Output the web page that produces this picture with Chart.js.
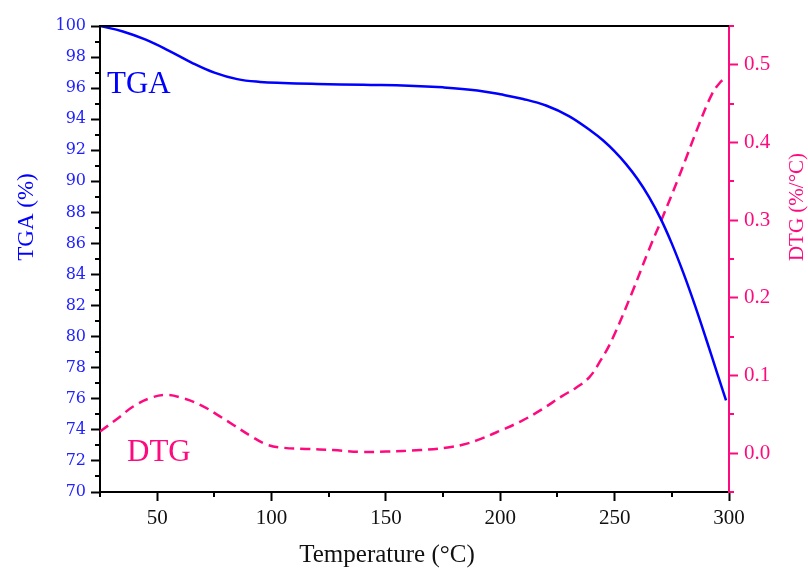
<html>
<head>
<style>
  body { margin: 0; background: #fff; }
  #wrap { width: 808px; height: 568px; }
</style>
</head>
<body>
<div id="wrap"><canvas id="myChart"></canvas></div>
<script src="https://cdn.jsdelivr.net/npm/chart.js"></script>
<script>
// data
const tgaTemp = [25, 35, 45, 55, 65, 75, 85, 95, 105, 120, 140, 160, 175, 190, 200, 210, 220, 230, 240, 245, 250, 255, 260, 265, 270, 275, 280, 285, 290, 295, 298.7];
const tgaVal  = [100.0, 99.65, 99.12, 98.42, 97.65, 97.0, 96.58, 96.4, 96.33, 96.27, 96.21, 96.16, 96.05, 95.85, 95.6, 95.3, 94.88, 94.2, 93.21, 92.63, 91.93, 91.11, 90.15, 89.0, 87.63, 85.99, 84.12, 82.06, 79.85, 77.57, 75.9];

const dtgTemp = [25, 32, 39.5, 47, 54, 61, 69, 76, 83.5, 91, 98, 105, 115, 127, 140, 150, 165, 177, 185, 192, 200, 209, 218, 227, 233, 239, 244, 249, 257.5, 265, 271, 278, 287, 292.5, 296, 298.7];
const dtgVal  = [0.028, 0.043, 0.06, 0.071, 0.075, 0.071, 0.062, 0.05, 0.036, 0.022, 0.011, 0.007, 0.0055, 0.004, 0.0015, 0.002, 0.004, 0.0073, 0.012, 0.019, 0.029, 0.041, 0.056, 0.0735, 0.084, 0.098, 0.12, 0.147, 0.206, 0.262, 0.304, 0.355, 0.424, 0.462, 0.477, 0.484];

// ticks
const xTicks = [50, 100, 150, 200, 250, 300];
const xMinor = [25, 75, 125, 175, 225, 275];
const tgaTicks = [70, 72, 74, 76, 78, 80, 82, 84, 86, 88, 90, 92, 94, 96, 98, 100];
const tgaMinor = [71, 73, 75, 77, 79, 81, 83, 85, 87, 89, 91, 93, 95, 97, 99];
const dtgTicks = [0.0, 0.1, 0.2, 0.3, 0.4, 0.5];
const dtgMinor = [-0.05, 0.05, 0.15, 0.25, 0.35, 0.45, 0.55];

const BLUE = '#0000ff';
const PINK = '#ff0a7e';
const SERIF = '"Liberation Serif", "DejaVu Serif", serif';

// minor ticks, top frame line and the free texts
const extras = {
  id: 'extras',
  afterDraw(chart) {
    const ctx = chart.ctx;
    const a = chart.chartArea;
    const xs = chart.scales.x, yl = chart.scales.y, yr = chart.scales.y2;
    ctx.save();
    ctx.lineWidth = 2;
    ctx.strokeStyle = '#000';
    ctx.beginPath();
    xMinor.forEach(v => {
      const p = Math.round(xs.getPixelForValue(v));
      ctx.moveTo(p, a.bottom); ctx.lineTo(p, a.bottom + 5);
    });
    tgaMinor.forEach(v => {
      const p = Math.round(yl.getPixelForValue(v));
      ctx.moveTo(a.left - 5, p); ctx.lineTo(a.left, p);
    });
    ctx.moveTo(a.left, a.top); ctx.lineTo(a.right, a.top);
    ctx.stroke();

    ctx.strokeStyle = PINK;
    ctx.beginPath();
    dtgMinor.forEach(v => {
      const p = Math.round(yr.getPixelForValue(v));
      ctx.moveTo(a.right, p); ctx.lineTo(a.right + 5, p);
    });
    ctx.stroke();

    // labels in the plot
    ctx.textBaseline = 'alphabetic';
    ctx.textAlign = 'left';
    ctx.font = '31px ' + SERIF;
    ctx.fillStyle = BLUE;
    ctx.fillText('TGA', 107, 93);
    ctx.fillStyle = PINK;
    ctx.fillText('DTG', 127, 461);

    // axis titles
    ctx.textAlign = 'center';
    ctx.fillStyle = '#111';
    ctx.font = '25px ' + SERIF;
    ctx.fillText('Temperature (°C)', 387, 562);

    ctx.save();
    ctx.translate(33, 217);
    ctx.rotate(-Math.PI / 2);
    ctx.fillStyle = BLUE;
    ctx.font = '23px ' + SERIF;
    ctx.fillText('TGA (%)', 0, 0);
    ctx.restore();

    ctx.save();
    ctx.translate(803, 207);
    ctx.rotate(-Math.PI / 2);
    ctx.fillStyle = PINK;
    ctx.font = '21px ' + SERIF;
    ctx.fillText('DTG (%/°C)', 0, 0);
    ctx.restore();

    ctx.restore();
  }
};

new Chart(document.querySelector('#myChart'), {
  type: 'line',
  data: {
    datasets: [{
      label: 'TGA',
      data: tgaTemp.map((t, i) => ({ x: t, y: tgaVal[i] })),
      yAxisID: 'y',
      borderColor: BLUE,
      borderWidth: 2.5,
      pointRadius: 0,
      tension: 0.4
    }, {
      label: 'DTG',
      data: dtgTemp.map((t, i) => ({ x: t, y: dtgVal[i] })),
      yAxisID: 'y2',
      borderColor: PINK,
      borderWidth: 2.5,
      borderDash: [10, 6],
      pointRadius: 0,
      tension: 0.4
    }]
  },
  options: {
    responsive: true,
    maintainAspectRatio: false,
    animation: false,
    layout: { padding: { top: 26, left: 0, right: 0, bottom: 0 } },
    plugins: { legend: { display: false }, tooltip: { enabled: false } },
    scales: {
      x: {
        type: 'linear',
        min: 25, max: 300,
        afterBuildTicks: s => { s.ticks = xTicks.map(v => ({ value: v })); },
        afterFit: s => { s.height = 76; },
        border: { color: '#000', width: 2 },
        grid: { drawOnChartArea: false, tickLength: 9, tickColor: '#000', tickWidth: 2 },
        ticks: { color: '#111', padding: 5, maxRotation: 0, font: { family: SERIF, size: 21 } }
      },
      y: {
        position: 'left',
        min: 70, max: 100,
        afterBuildTicks: s => { s.ticks = tgaTicks.map(v => ({ value: v })); },
        afterFit: s => { s.width = 100; },
        border: { color: '#000', width: 2 },
        grid: { drawOnChartArea: false, tickLength: 9, tickColor: '#000', tickWidth: 2 },
        ticks: { color: '#1f1fff', padding: 5, font: { family: '"DejaVu Serif", serif', size: 16 } }
      },
      y2: {
        position: 'right',
        min: -0.05, max: 0.55,
        afterBuildTicks: s => { s.ticks = dtgTicks.map(v => ({ value: v })); },
        afterFit: s => { s.width = 79; },
        border: { color: PINK, width: 2 },
        grid: { drawOnChartArea: false, tickLength: 9, tickColor: PINK, tickWidth: 2 },
        ticks: { color: PINK, padding: 6, font: { family: SERIF, size: 21 }, callback: v => v.toFixed(1) }
      }
    }
  },
  plugins: [extras]
});
</script>
</body>
</html>
